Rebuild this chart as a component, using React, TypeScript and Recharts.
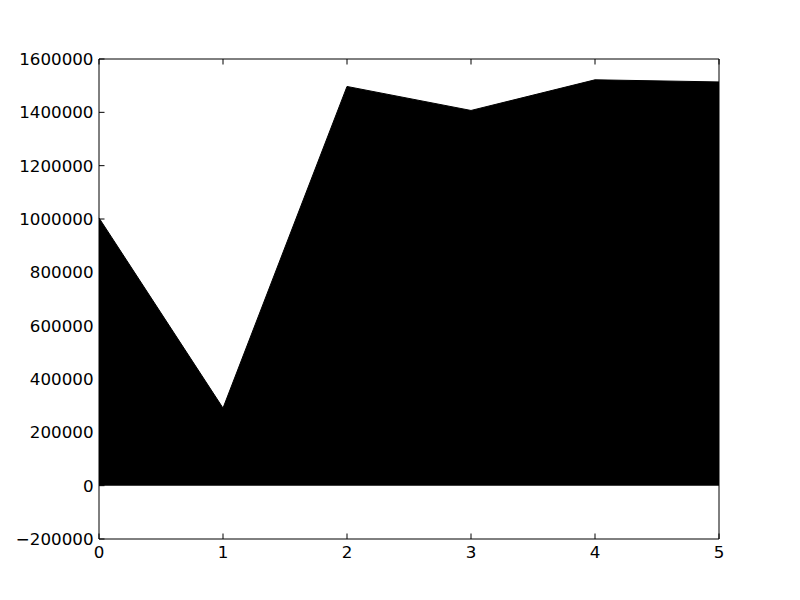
import React from "react";
import { AreaChart, Area, XAxis, YAxis } from "recharts";

const xValues = [0, 1, 2, 3, 4, 5];
const yValues = [1004000, 291000, 1497000, 1407000, 1522000, 1514000];
const xTicks = [0, 1, 2, 3, 4, 5];
const yTicks = [-200000, 0, 200000, 400000, 600000, 800000, 1000000, 1200000, 1400000, 1600000];

const data = xValues.map((x, i) => ({ x, y: yValues[i] }));

const FONT = "DejaVu Sans, sans-serif";
const TICK_LEN = 5.5;
const PAD = 5.5;

// matplotlib writes negatives with a real minus sign
const fmt = (v: number) => String(v).replace("-", "\u2212");

const BottomTick = (props: any) => {
  const { x, y, payload } = props;
  return (
    <g>
      <line x1={x} y1={y} x2={x} y2={y - TICK_LEN} stroke="#000" strokeWidth={1} />
      <text x={x} y={y + PAD} dy="0.8em" textAnchor="middle" fontFamily={FONT} fontSize={16.7} fill="#000">
        {fmt(payload.value)}
      </text>
    </g>
  );
};

const TopTick = (props: any) => {
  const { x, y } = props;
  return <line x1={x} y1={y} x2={x} y2={y + TICK_LEN} stroke="#000" strokeWidth={1} />;
};

const LeftTick = (props: any) => {
  const { x, y, payload } = props;
  return (
    <g>
      <line x1={x} y1={y} x2={x + TICK_LEN} y2={y} stroke="#000" strokeWidth={1} />
      <text x={x - PAD} y={y} dy="0.36em" textAnchor="end" fontFamily={FONT} fontSize={16.7} fill="#000">
        {fmt(payload.value)}
      </text>
    </g>
  );
};

const RightTick = (props: any) => {
  const { x, y } = props;
  return <line x1={x} y1={y} x2={x - TICK_LEN} y2={y} stroke="#000" strokeWidth={1} />;
};

export default function App() {
  return (
    <div style={{ margin: -8, width: 800, height: 600, background: "#fff" }}>
      <AreaChart
        width={800}
        height={600}
        data={data}
        margin={{ top: 58, right: 80, bottom: 0, left: 0 }}
      >
        <XAxis
          dataKey="x"
          type="number"
          domain={[0, 5]}
          ticks={xTicks}
          height={61}
          tickSize={0}
          tickMargin={0}
          tickLine={false}
          axisLine={{ stroke: "#000" }}
          tick={<BottomTick />}
          interval={0}
        />
        <XAxis
          xAxisId="top"
          orientation="top"
          dataKey="x"
          type="number"
          domain={[0, 5]}
          ticks={xTicks}
          height={1}
          tickSize={0}
          tickMargin={0}
          tickLine={false}
          axisLine={{ stroke: "#000" }}
          tick={<TopTick />}
          interval={0}
        />
        <YAxis
          type="number"
          domain={[-200000, 1600000]}
          ticks={yTicks}
          width={99}
          tickSize={0}
          tickMargin={0}
          tickLine={false}
          axisLine={{ stroke: "#000" }}
          tick={<LeftTick />}
          interval={0}
        />
        <YAxis
          yAxisId="right"
          orientation="right"
          type="number"
          domain={[-200000, 1600000]}
          ticks={yTicks}
          width={1}
          tickSize={0}
          tickMargin={0}
          tickLine={false}
          axisLine={{ stroke: "#000" }}
          tick={<RightTick />}
          interval={0}
        />
        <Area
          type="linear"
          dataKey="y"
          baseValue={0}
          fill="#000"
          fillOpacity={1}
          stroke="#000"
          strokeWidth={1}
          isAnimationActive={false}
          dot={false}
          activeDot={false}
        />
      </AreaChart>
    </div>
  );
}
